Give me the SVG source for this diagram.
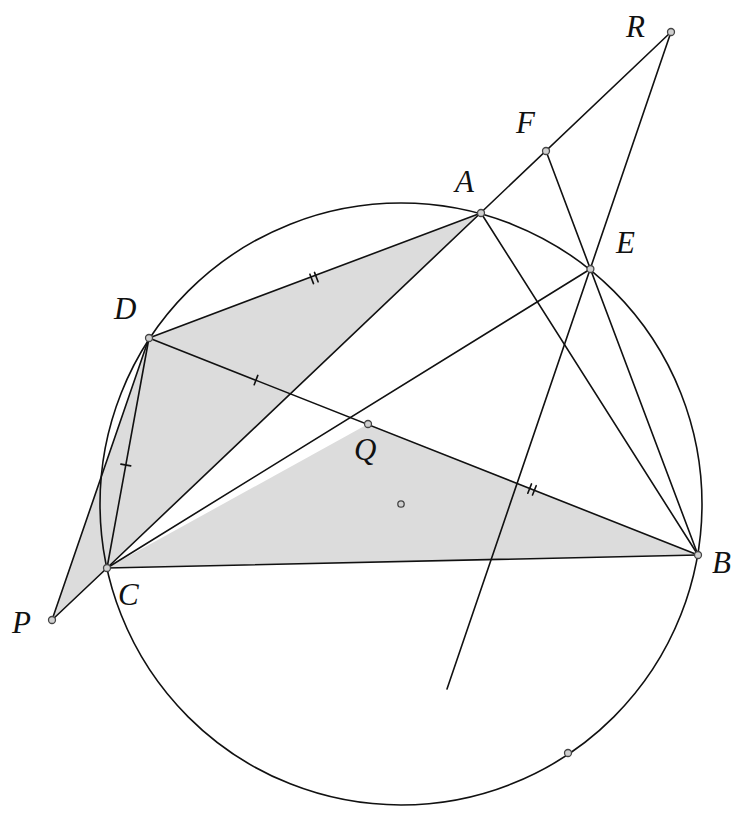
<svg xmlns="http://www.w3.org/2000/svg" width="749" height="818" viewBox="0 0 749 818">
<style>
.ln{stroke:#111;stroke-width:1.6;fill:none;stroke-linecap:round}
.sh{fill:#dcdcdc;stroke:none}
.pt{fill:#d0d0d0;stroke:#444;stroke-width:1.3}
.lb{font-family:"Liberation Serif","DejaVu Serif",serif;font-style:italic;font-size:31px;fill:#111}
</style>
<rect width="749" height="818" fill="#fff"/>
<g id="shading">
<polygon class="sh" points="149,338 481,213 107,568 52,620"/>
<polygon class="sh" points="368,424 698,555 107,568"/>
</g>
<g id="circle">
<circle class="ln" cx="401" cy="504" r="301"/>
</g>
<g id="connectors">
<line class="ln" x1="671" y1="32" x2="107" y2="568"/>
<line class="ln" x1="546" y1="151" x2="698" y2="555"/>
<line class="ln" x1="671" y1="32" x2="447" y2="689"/>
<line class="ln" x1="481" y1="213" x2="698" y2="555"/>
<line class="ln" x1="590.4" y1="269" x2="107" y2="568"/>
<line class="ln" x1="149" y1="338" x2="698" y2="555"/>
<line class="ln" x1="149" y1="338" x2="481" y2="213"/>
<line class="ln" x1="149" y1="338" x2="107" y2="568"/>
<line class="ln" x1="149" y1="338" x2="52" y2="620"/>
<line class="ln" x1="52" y1="620" x2="107" y2="568"/>
<line class="ln" x1="107" y1="568" x2="698" y2="555"/>
</g>
<g id="ticks">
<line class="ln" x1="314.5" y1="272.4" x2="318.1" y2="281.8"/>
<line class="ln" x1="309.9" y1="274.2" x2="313.5" y2="283.6"/>
<line class="ln" x1="257.8" y1="375.4" x2="254.2" y2="384.7"/>
<line class="ln" x1="536.2" y1="485.7" x2="532.5" y2="495.0"/>
<line class="ln" x1="531.5" y1="483.9" x2="527.8" y2="493.2"/>
<line class="ln" x1="120.9" y1="464.1" x2="130.7" y2="465.9"/>
</g>
<g id="R"><circle class="pt" cx="671" cy="32" r="3.5"/><text class="lb" x="626" y="37">R</text></g>
<g id="F"><circle class="pt" cx="546" cy="151" r="3.5"/><text class="lb" x="516" y="133">F</text></g>
<g id="A"><circle class="pt" cx="481" cy="213" r="3.5"/><text class="lb" x="455" y="192">A</text></g>
<g id="E"><circle class="pt" cx="590.4" cy="269" r="3.5"/><text class="lb" x="616" y="253">E</text></g>
<g id="D"><circle class="pt" cx="149" cy="338" r="3.5"/><text class="lb" x="114" y="319">D</text></g>
<g id="Q"><circle class="pt" cx="368" cy="424" r="3.5"/><text class="lb" x="354" y="460">Q</text></g>
<g id="O"><circle class="pt" cx="401" cy="504" r="3.2"/></g>
<g id="B"><circle class="pt" cx="698" cy="555" r="3.5"/><text class="lb" x="712" y="573">B</text></g>
<g id="C"><circle class="pt" cx="107" cy="568" r="3.5"/><text class="lb" x="118" y="605">C</text></g>
<g id="P"><circle class="pt" cx="52" cy="620" r="3.5"/><text class="lb" x="12" y="633">P</text></g>
<g id="M"><circle class="pt" cx="568" cy="753" r="3.5"/></g>
</svg>
